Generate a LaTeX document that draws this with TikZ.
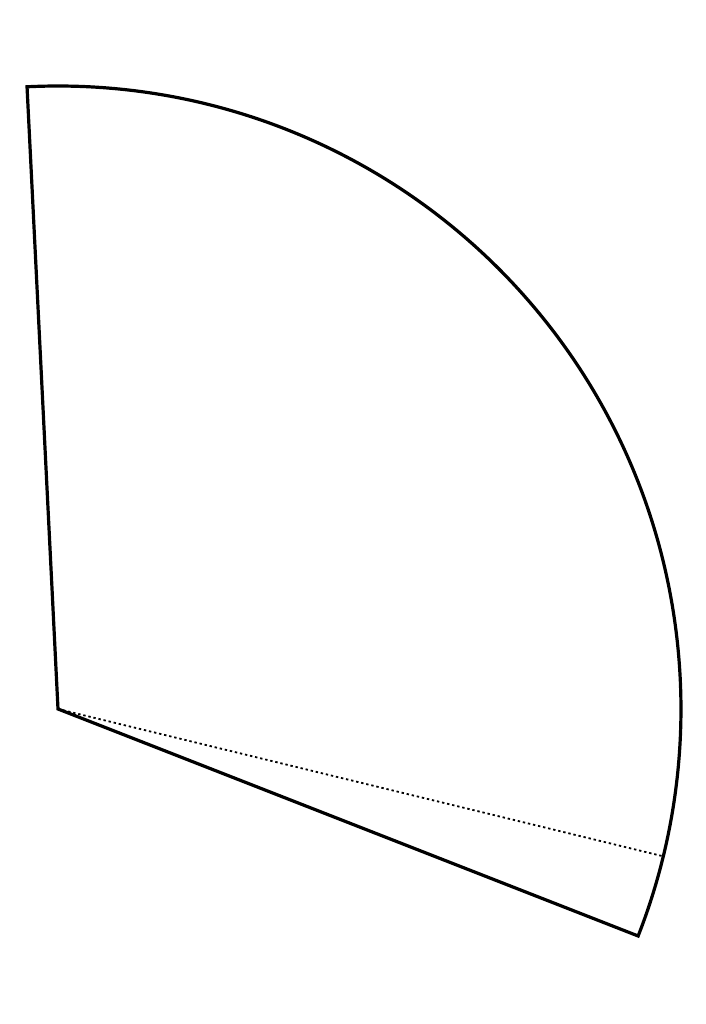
\documentclass[tikz,border=0pt]{standalone}
\usetikzlibrary{calc}
\begin{document}
\begin{tikzpicture}[x=0.5pt,y=0.5pt,
  edge/.style={line width=1.6pt, line join=miter},
  dotline/.style={line width=0.9pt, dash pattern=on 1.2pt off 1.4pt}]
\useasboundingbox (0,0) rectangle (706,1024);
\coordinate (O) at (58,315);
\coordinate (B) at ($(O)+(-21.37:623)$);
\coordinate (T) at ($(O)+(92.85:623)$);
\coordinate (D) at ($(O)+(-13.68:623)$);
\draw[dotline] (O) -- (D);
\draw[edge] (O) -- (B) arc[start angle=-21.37, end angle=92.85, radius=623] -- cycle;
\end{tikzpicture}
\end{document}
